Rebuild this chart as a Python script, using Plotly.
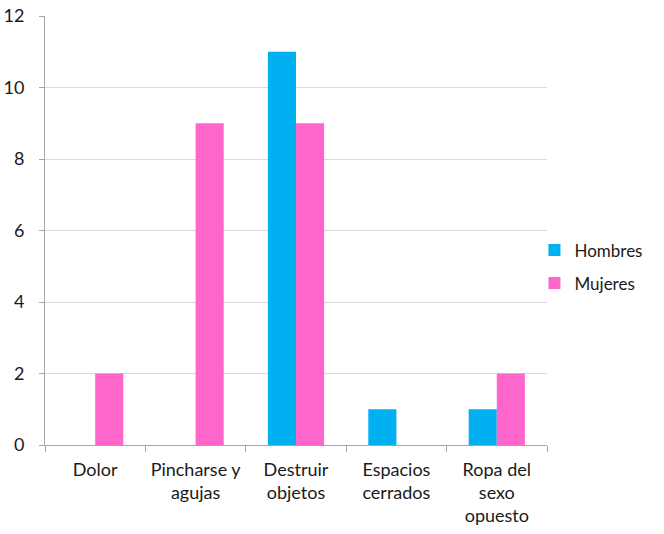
import plotly.graph_objects as go

categories = ["Dolor", "Pincharse y<br>agujas", "Destruir<br>objetos", "Espacios<br>cerrados", "Ropa del<br>sexo<br>opuesto"]
hombres = [0, 0, 11, 1, 1]
mujeres = [2, 9, 9, 0, 2]

fig = go.Figure()
fig.add_trace(go.Bar(name="Hombres", x=categories, y=hombres, legendgroup="h",
                     marker=dict(color="#00B0F0", line=dict(width=0))))
fig.add_trace(go.Bar(name="Mujeres", x=categories, y=mujeres, legendgroup="m",
                     marker=dict(color="#FF66CC", line=dict(width=0))))

font = dict(family="Lato, Open Sans, sans-serif", size=18, color="#1a1a1a")
fig.update_layout(
    width=664, height=534,
    margin=dict(l=45, r=117, t=16, b=89),
    barmode="group", bargap=0.44, bargroupgap=0,
    plot_bgcolor="white", paper_bgcolor="white",
    font=font,
    legend=dict(x=0.975, y=0.415, xanchor="left", yanchor="middle", font=dict(size=17),
                itemwidth=30, tracegroupgap=8, borderwidth=0),
    xaxis=dict(showline=True, linecolor="#a6a6a6", linewidth=1, ticks="outside", tickson="boundaries",
               ticklen=6, tickcolor="#a6a6a6", showgrid=False, tickfont=font, tickangle=0,
               ticklabelstandoff=8, automargin=False),
    yaxis=dict(range=[0, 12], dtick=2, showline=True, linecolor="#a6a6a6", linewidth=1,
               ticks="outside", ticklen=5, tickcolor="#a6a6a6", gridcolor="#d9d9d9", gridwidth=1,
               zeroline=False, tickfont=font, ticklabelstandoff=11, automargin=False),
)
fig.write_html("out.html", config={"displayModeBar": False},
               post_script="document.body.style.margin='0';")
